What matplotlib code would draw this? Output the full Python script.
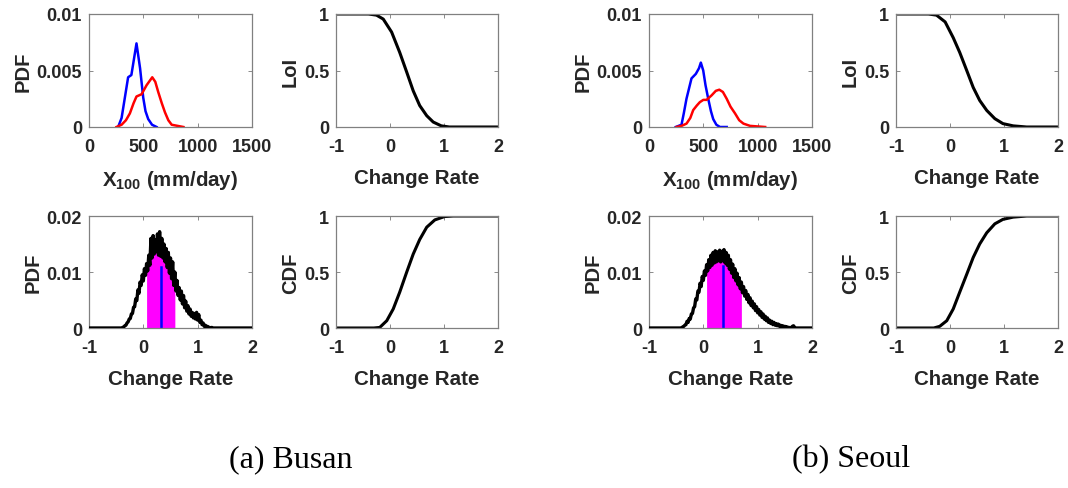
import numpy as np
import matplotlib.pyplot as plt

plt.rcParams['font.family'] = ['Liberation Sans', 'DejaVu Sans']
plt.rcParams['font.weight'] = 'bold'
plt.rcParams['axes.unicode_minus'] = False
plt.rcParams['mathtext.fontset'] = 'custom'
plt.rcParams['mathtext.bf'] = 'Liberation Sans:bold'
plt.rcParams['mathtext.rm'] = 'Liberation Sans:bold'
plt.rcParams['text.color'] = '#262626'
plt.rcParams['axes.labelcolor'] = '#262626'
plt.rcParams['xtick.labelcolor'] = '#262626'
plt.rcParams['ytick.labelcolor'] = '#262626'

# ---- top-left: PDF of X100 (mm/day), blue = current, red = future
busan_x100_blue = [268, 300, 340, 360, 390, 437, 470, 499, 520, 545, 580, 622]
busan_pdf_blue = [0, 0.0008, 0.0032, 0.0044, 0.0046, 0.0074, 0.0052, 0.0026, 0.0014, 0.0007, 0.0002, 0]
busan_x100_red = [253, 300, 340, 376, 410, 437, 484, 530, 582, 610, 637, 670, 699, 730, 761, 869]
busan_pdf_red = [0, 0.0002, 0.0006, 0.0012, 0.0021, 0.0027, 0.0029, 0.0037, 0.0044, 0.0040, 0.0031, 0.0021, 0.0013, 0.0006, 0.0002, 0]

seoul_x100_blue = [246, 299, 320, 345, 391, 431, 460, 477, 499, 520, 545, 570, 591, 620, 653, 715]
seoul_pdf_blue = [0, 0.0002, 0.0012, 0.0025, 0.0043, 0.0047, 0.0052, 0.0057, 0.0050, 0.0037, 0.0025, 0.0014, 0.0007, 0.0002, 0, 0]
seoul_x100_red = [253, 300, 345, 380, 407, 440, 468, 500, 530, 576, 615, 647, 680, 715, 750, 792, 830, 869, 930, 1069]
seoul_pdf_red = [0, 0.0001, 0.0003, 0.0008, 0.0015, 0.0019, 0.0022, 0.0024, 0.0024, 0.0028, 0.0032, 0.0033, 0.0031, 0.0025, 0.0018, 0.0012, 0.0006, 0.0003, 0.0001, 0]

# ---- top-right: level of impact vs change rate
rate_loi = [-1.0, -0.4, -0.25, -0.125, 0.03, 0.18, 0.31, 0.43, 0.55, 0.68, 0.80, 0.95, 1.1, 1.4, 2.0]
busan_loi = [1.0, 1.0, 0.99, 0.955, 0.84, 0.66, 0.485, 0.32, 0.19, 0.10, 0.044, 0.01, 0.0, 0.0, 0.0]
rate_loi_s = [-1.0, -0.4, -0.25, -0.09, 0.06, 0.18, 0.31, 0.43, 0.55, 0.68, 0.83, 0.98, 1.17, 1.42, 2.0]
seoul_loi = [1.0, 1.0, 0.99, 0.93, 0.79, 0.66, 0.50, 0.35, 0.235, 0.147, 0.074, 0.03, 0.01, 0.0, 0.0]

# ---- bottom-right: CDF of change rate
rate_cdf = [-1.0, -0.3, -0.19, -0.06, 0.06, 0.18, 0.31, 0.43, 0.55, 0.68, 0.83, 1.01, 1.17, 1.5, 2.0]
busan_cdf = [0.0, 0.0, 0.005, 0.065, 0.17, 0.32, 0.50, 0.66, 0.79, 0.90, 0.965, 0.995, 1.0, 1.0, 1.0]
rate_cdf_s = [-1.0, -0.3, -0.19, -0.06, 0.06, 0.18, 0.31, 0.43, 0.55, 0.68, 0.83, 0.98, 1.17, 1.42, 2.0]
seoul_cdf = [0.0, 0.0, 0.015, 0.065, 0.17, 0.32, 0.48, 0.63, 0.75, 0.85, 0.93, 0.97, 0.99, 1.0, 1.0]

# ---- bottom-left: PDF of change rate (bins of 0.02 starting at -0.40), values x 1e-4
busan_rate_pdf = [0, 1, 2, 4, 5, 9, 11, 16, 17, 25, 26, 37, 38, 52, 49, 68, 62, 82, 76, 95,
                  84, 106, 94, 115, 102, 130, 112, 160, 125, 165, 132, 158, 136, 168, 130, 172, 128, 160, 125, 150,
                  118, 142, 108, 135, 98, 125, 88, 118, 76, 100, 66, 85, 58, 72, 50, 66, 43, 58, 36, 48,
                  30, 40, 25, 34, 21, 28, 18, 26, 16, 28, 14, 24, 10, 14, 6, 9, 3, 5, 2, 3,
                  1, 1, 0, 1, 0, 0]
seoul_rate_pdf = [0, 2, 3, 5, 6, 12, 10, 17, 16, 25, 26, 36, 38, 52, 50, 66, 64, 80, 74, 92,
                  85, 102, 94, 113, 102, 122, 108, 130, 112, 135, 116, 138, 118, 136, 120, 139, 118, 137, 120, 140,
                  116, 135, 112, 130, 105, 122, 98, 114, 90, 106, 84, 98, 77, 90, 70, 82, 63, 74, 57, 67,
                  51, 60, 45, 54, 40, 48, 36, 43, 31, 38, 27, 33, 23, 29, 19, 25, 16, 21, 13, 18,
                  10, 14, 8, 12, 6, 10, 5, 8, 4, 7, 3, 5, 2, 4, 2, 3, 1, 2, 1, 1,
                  0, 1, 3, 4, 1, 0]
busan_band = (0.05, 0.58)
seoul_band = (0.05, 0.71)
busan_median = 0.32
seoul_median = 0.37

W, H = 1068, 489
fig = plt.figure(figsize=(W / 100, H / 100), dpi=100)

def px_axes(left, top, right, bottom):
    return fig.add_axes([left / W, 1 - bottom / H, (right - left) / W, (bottom - top) / H])

def style(ax, xlim, xticks, ylim, yticks, yticklabels, ylabel, xlabel):
    ax.set_xlim(xlim)
    ax.set_ylim(ylim)
    ax.set_xticks(xticks)
    ax.set_yticks(yticks)
    ax.set_yticklabels(yticklabels)
    ax.tick_params(direction='in', top=True, right=True, length=3, width=0.6,
                   color='#777777', labelsize=13)
    ax.tick_params(axis='x', pad=8)
    ax.tick_params(axis='y', pad=5)
    for lab in ax.get_xticklabels() + ax.get_yticklabels():
        lab.set_fontweight('bold')
    for s in ax.spines.values():
        s.set_color('#808080')
        s.set_linewidth(0.9)
    ax.set_ylabel(ylabel, fontsize=14.5, fontweight='bold', labelpad=3)
    ax.set_xlabel(xlabel, fontsize=14.8, fontweight='bold', labelpad=9)

def rate_pdf_panel(ax, vals, band, med):
    y = np.array(vals) / 1e4
    x = np.round(-0.40 + 0.02 * np.arange(len(y)), 2)
    xs = np.concatenate([[-1.0], x, [2.0]])
    ys = np.concatenate([[0.0], y, [0.0]])
    sel = (x >= band[0]) & (x <= band[1])
    ax.fill_between(x[sel], 0, y[sel], color='#ff00ff', lw=0, zorder=1)
    ax.plot([med, med], [0, np.interp(med, x, y) * 0.85], color='#0000ff', lw=1.8, zorder=2)
    ax.plot(xs, ys, color='black', lw=2.4, zorder=3)

rate_ticks = [-1, 0, 1, 2]
xlab_x100 = r'$\mathbf{X_{100}}$ (mm/day)'

for off, xb, pb, xr, pr, loi_x, loi, cdf_x, cdf, rpdf, band, med in [
        (0, busan_x100_blue, busan_pdf_blue, busan_x100_red, busan_pdf_red,
         rate_loi, busan_loi, rate_cdf, busan_cdf, busan_rate_pdf, busan_band, busan_median),
        (560, seoul_x100_blue, seoul_pdf_blue, seoul_x100_red, seoul_pdf_red,
         rate_loi_s, seoul_loi, rate_cdf_s, seoul_cdf, seoul_rate_pdf, seoul_band, seoul_median)]:
    ax1 = px_axes(89 + off, 15, 252 + off, 128)
    ax1.plot(xb, pb, color='#0000ff', lw=1.8)
    ax1.plot(xr, pr, color='#ff0000', lw=1.8)
    style(ax1, (0, 1500), [0, 500, 1000, 1500], (0, 0.01), [0, 0.005, 0.01],
          ['0', '0.005', '0.01'], 'PDF', xlab_x100)

    ax2 = px_axes(336 + off, 15, 498 + off, 128)
    ax2.plot(loi_x, loi, color='black', lw=2.2)
    style(ax2, (-1, 2), rate_ticks, (0, 1), [0, 0.5, 1], ['0', '0.5', '1'], 'LoI', 'Change Rate')

    ax3 = px_axes(89 + off, 217, 252 + off, 329)
    rate_pdf_panel(ax3, rpdf, band, med)
    style(ax3, (-1, 2), rate_ticks, (0, 0.02), [0, 0.01, 0.02], ['0', '0.01', '0.02'], 'PDF', 'Change Rate')

    ax4 = px_axes(336 + off, 217, 498 + off, 329)
    ax4.plot(cdf_x, cdf, color='black', lw=2.2)
    style(ax4, (-1, 2), rate_ticks, (0, 1), [0, 0.5, 1], ['0', '0.5', '1'], 'CDF', 'Change Rate')

fig.text(291 / W, 1 - 460 / H, '(a) Busan', family='Liberation Serif', fontweight='normal',
         fontsize=23, ha='center', va='center', color='black')
fig.text(851 / W, 1 - 460 / H, '(b) Seoul', family='Liberation Serif', fontweight='normal',
         fontsize=23, ha='center', va='center', color='black')

fig.savefig('out.png', dpi=100)
